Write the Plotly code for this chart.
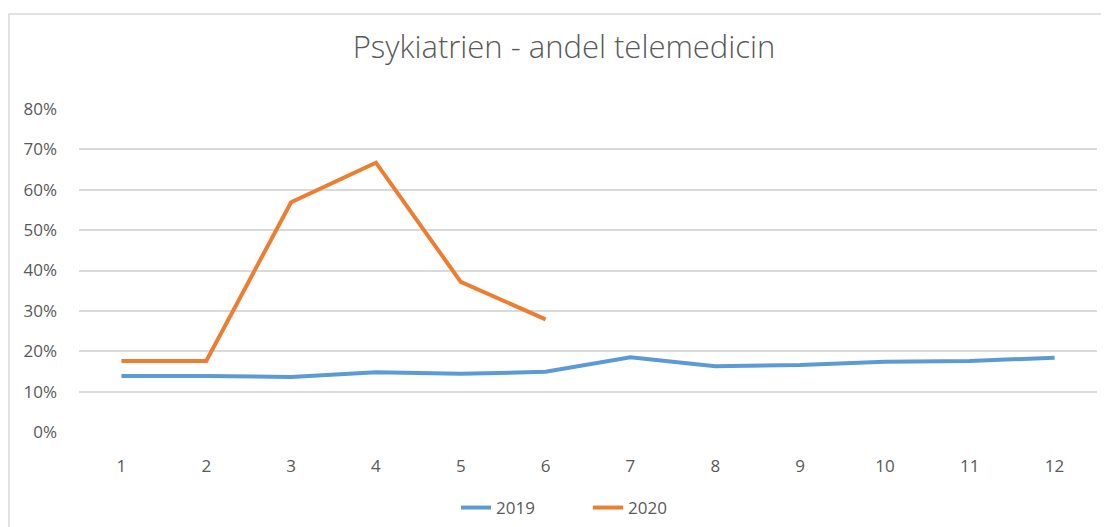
import plotly.graph_objects as go

months = [1, 2, 3, 4, 5, 6, 7, 8, 9, 10, 11, 12]
month_labels = ["1", "2", "3", "4", "5", "6", "7", "8", "9", "10", "11", "12"]
values_2019 = [0.139, 0.139, 0.136, 0.148, 0.144, 0.149, 0.185, 0.163, 0.166, 0.174, 0.176, 0.184]
months_2020 = [1, 2, 3, 4, 5, 6]
values_2020 = [0.176, 0.176, 0.569, 0.667, 0.372, 0.279]
y_ticks = [0, 0.1, 0.2, 0.3, 0.4, 0.5, 0.6, 0.7, 0.8]

OFF = 8  # page offset of the figure
W, H = 1109 - OFF, 527 - OFF
L = 79 - OFF
T = 109 - OFF
R = W - (1097 - OFF)
B = H - (432 - OFF)
pw, ph = W - L - R, H - T - B

def px_x(p):
    return (p - OFF - L) / pw

def px_y(p):
    return (H - B - (p - OFF)) / ph

fig = go.Figure()
fig.add_trace(go.Scatter(x=months, y=values_2019, mode="lines", name="2019",
                         line=dict(color="#5B9BD5", width=4)))
fig.add_trace(go.Scatter(x=months_2020, y=values_2020, mode="lines", name="2020",
                         line=dict(color="#ED7D31", width=4)))

font_family = "Open Sans"
fig.update_layout(
    width=W, height=H,
    margin=dict(l=L, r=R, t=T, b=B, autoexpand=False),
    paper_bgcolor="white", plot_bgcolor="white",
    title=dict(text="Psykiatrien - andel telemedicin", x=(564 - OFF) / W, xanchor="center",
               y=1 - (47 - OFF) / H, yanchor="middle", yref="container",
               font=dict(family=font_family, size=31, color="#595959", weight=300)),
    legend=dict(orientation="h", x=0.5, xanchor="center", y=px_y(508), yanchor="middle",
                entrywidth=87,
                font=dict(family=font_family, size=17, color="#595959")),
    showlegend=True,
    xaxis=dict(range=[0.5, 12.5], tickmode="array", tickvals=months, ticktext=month_labels,
               showgrid=False, zeroline=False, showline=False, ticks="",
               ticklabelstandoff=22,
               tickfont=dict(family=font_family, size=17, color="#595959")),
    yaxis=dict(range=[0, 0.8], tickmode="array", tickvals=y_ticks, tickformat=".0%",
               showgrid=True, gridcolor="#d9d9d9", gridwidth=1.5, zeroline=False,
               showline=False, ticks="", ticklabelstandoff=21,
               tickfont=dict(family=font_family, size=17, color="#595959")),
    shapes=[dict(type="rect", xref="paper", yref="paper",
                 x0=px_x(9), x1=px_x(1108), y0=px_y(540), y1=px_y(14),
                 line=dict(color="#d9d9d9", width=1.5), fillcolor="rgba(0,0,0,0)",
                 layer="below")],
)

fig.write_html("out.html")
